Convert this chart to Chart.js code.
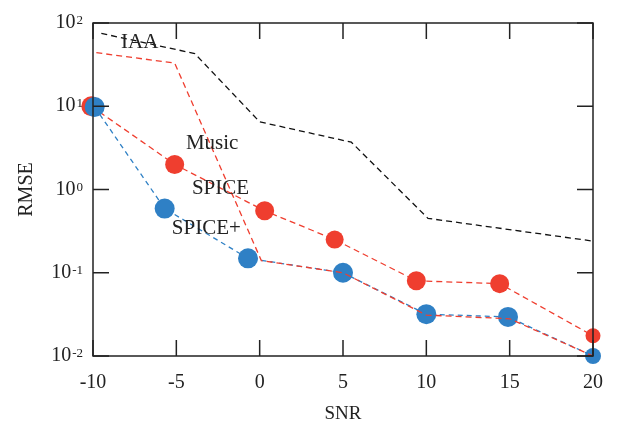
<!DOCTYPE html>
<html>
<head>
<meta charset="utf-8">
<script src="https://cdn.jsdelivr.net/npm/chart.js@4.4.1/dist/chart.umd.min.js"></script>
<style>
  html, body { margin: 0; padding: 0; background: #fff; }
  #wrap { width: 617px; height: 421px; }
</style>
</head>
<body>
<div id="wrap"><canvas id="rmse-chart" width="617" height="421"></canvas></div>
<script>
'use strict';

// values
var xTicks = [-10, -5, 0, 5, 10, 15, 20];
var yDecades = [0.01, 0.1, 1, 10, 100];
var yTickLabels = ['10', '10', '10', '10', '10'];
var yTickExps = ['-2', '-1', '0', '1', '2'];

var iaaX = [-9.5, -3.9, 0, 5.5, 10.1, 20];
var iaaY = [75, 43, 6.5, 3.7, 0.45, 0.24];

var musicX = [-9.8, -5.1, 0.1, 5, 10, 15, 20];
var musicY = [44, 33, 0.14, 0.1, 0.031, 0.028, 0.01];

var spiceX = [-10.1, -5.1, 0.3, 4.5, 9.4, 14.4, 20];
var spiceY = [10, 2.0, 0.555, 0.25, 0.08, 0.074, 0.0175];

var spicePlusX = [-9.9, -5.7, -0.7, 5, 10, 14.9, 20];
var spicePlusY = [9.8, 0.59, 0.149, 0.1, 0.0318, 0.0295, 0.01];

var labelNames = ['IAA', 'Music', 'SPICE', 'SPICE+'];
var labelX = [-7.2, -2.85, -2.35, -3.2];
var labelY = [59, 3.6, 1.04, 0.344];

var RED = '#ef3e2f';
var BLUE = '#2f80c5';
var INK = '#222222';
var FONT = "'Liberation Serif', 'DejaVu Serif', serif";

function toPoints(xs, ys) {
  return xs.map(function(x, i) { return { x: x, y: ys[i] }; });
}

// inward ticks on all four sides, the frame, superscripts and curve names
var framePlugin = {
  id: 'frame',
  afterDraw: function(chart) {
    var ctx = chart.ctx;
    var area = chart.chartArea;
    var xs = chart.scales.x;
    var ys = chart.scales.y;
    var len = 16;

    ctx.save();
    ctx.strokeStyle = INK;
    ctx.lineWidth = 1.5;
    ctx.strokeRect(area.left, area.top, area.right - area.left, area.bottom - area.top);

    ctx.beginPath();
    xTicks.forEach(function(v) {
      var px = xs.getPixelForValue(v);
      ctx.moveTo(px, area.bottom);
      ctx.lineTo(px, area.bottom - len);
      ctx.moveTo(px, area.top);
      ctx.lineTo(px, area.top + len);
    });
    yDecades.forEach(function(v) {
      var py = ys.getPixelForValue(v);
      ctx.moveTo(area.left, py);
      ctx.lineTo(area.left + len, py);
      ctx.moveTo(area.right, py);
      ctx.lineTo(area.right - len, py);
    });
    ctx.stroke();

    // y tick labels with superscript exponents
    ctx.fillStyle = INK;
    ctx.textBaseline = 'alphabetic';
    yDecades.forEach(function(v, i) {
      var py = ys.getPixelForValue(v);
      ctx.font = '13px ' + FONT;
      var expW = ctx.measureText(yTickExps[i]).width;
      var right = area.left - 10;
      ctx.textAlign = 'right';
      ctx.fillText(yTickExps[i], right, py + 1);
      ctx.font = '20px ' + FONT;
      ctx.fillText(yTickLabels[i], right - expW - 1, py + 5);
    });

    // curve names
    ctx.font = '21px ' + FONT;
    ctx.textAlign = 'center';
    ctx.textBaseline = 'middle';
    labelNames.forEach(function(name, i) {
      ctx.fillText(name, xs.getPixelForValue(labelX[i]), ys.getPixelForValue(labelY[i]));
    });
    ctx.restore();
  }
};

var ctx = document.getElementById('rmse-chart').getContext('2d');

var rmseChart = new Chart(ctx, {
  type: 'line',
  data: {
    datasets: [{
      label: 'Music',
      data: toPoints(musicX, musicY),
      borderColor: RED,
      borderWidth: 1.3,
      borderDash: [6, 4],
      pointRadius: 0,
      fill: false,
      order: 0
    }, {
      label: 'SPICE+',
      data: toPoints(spicePlusX, spicePlusY),
      borderColor: BLUE,
      backgroundColor: BLUE,
      borderWidth: 1.3,
      borderDash: [5, 4],
      pointRadius: [10, 10, 10, 10, 10, 10, 8],
      pointBorderWidth: 0,
      fill: false,
      order: 1
    }, {
      label: 'SPICE',
      data: toPoints(spiceX, spiceY),
      borderColor: RED,
      backgroundColor: RED,
      borderWidth: 1.3,
      borderDash: [6, 4],
      pointRadius: [10, 9.5, 9.5, 9, 9.5, 9.5, 7.5],
      pointBorderWidth: 0,
      fill: false,
      order: 2
    }, {
      label: 'IAA',
      data: toPoints(iaaX, iaaY),
      borderColor: '#111111',
      borderWidth: 1.3,
      borderDash: [6, 4],
      pointRadius: 0,
      fill: false,
      order: 3
    }]
  },
  options: {
    responsive: false,
    animation: false,
    clip: false,
    layout: { padding: { top: 23, right: 24, left: 0, bottom: 0 } },
    plugins: {
      legend: { display: false },
      tooltip: { enabled: false }
    },
    scales: {
      x: {
        type: 'linear',
        min: -10,
        max: 20,
        afterBuildTicks: function(scale) {
          scale.ticks = xTicks.map(function(v) { return { value: v }; });
        },
        ticks: {
          color: INK,
          padding: 7,
          font: { family: FONT, size: 20 }
        },
        grid: { display: false },
        border: { display: false },
        title: {
          display: true,
          text: 'SNR',
          color: INK,
          font: { family: FONT, size: 19 },
          padding: { top: 0, bottom: -4 }
        },
        afterFit: function(scale) { scale.height = 65; }
      },
      y: {
        type: 'logarithmic',
        min: 0.01,
        max: 100,
        afterBuildTicks: function(scale) {
          scale.ticks = yDecades.map(function(v) { return { value: v }; });
        },
        ticks: {
          callback: function() { return ''; }
        },
        grid: { display: false },
        border: { display: false },
        title: {
          display: true,
          text: 'RMSE',
          color: INK,
          font: { family: FONT, size: 20 },
          padding: { top: 15, bottom: 0 }
        },
        afterFit: function(scale) { scale.width = 93; }
      }
    }
  },
  plugins: [framePlugin]
});
</script>
</body>
</html>
